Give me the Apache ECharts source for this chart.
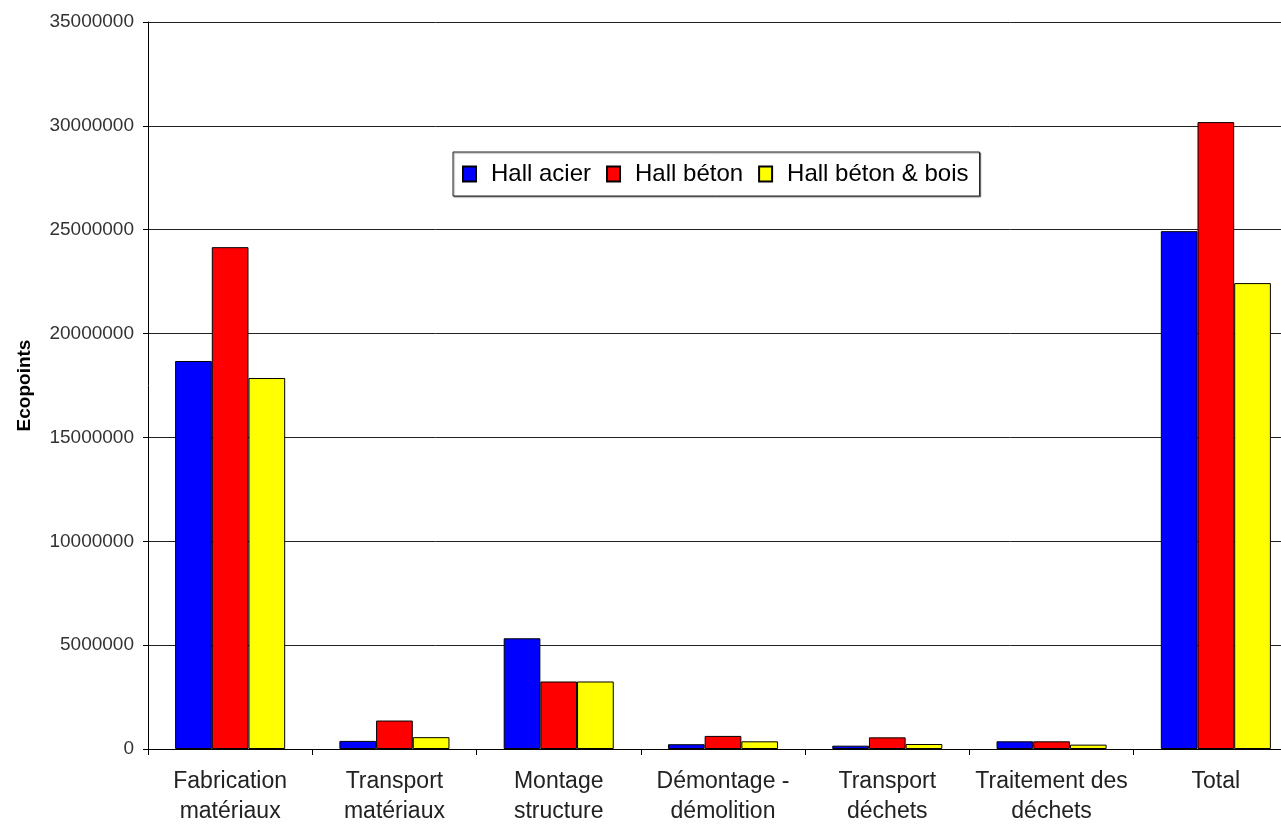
<!DOCTYPE html>
<html><head><meta charset="utf-8">
<script src="https://cdn.jsdelivr.net/npm/echarts@6/dist/echarts.min.js"></script>
<style>html,body{margin:0;padding:0;background:#fff;overflow:hidden}#c{width:1298px;height:824px}</style>
</head><body><div id="c"></div>
<script>
const categories = ['Fabrication\nmatériaux','Transport\nmatériaux','Montage\nstructure','Démontage -\ndémolition','Transport\ndéchets','Traitement des\ndéchets','Total'];
const hallAcier = [18680000, 390000, 5330000, 230000, 160000, 370000, 24930000];
const hallBeton = [24160000, 1370000, 3250000, 630000, 560000, 370000, 30180000];
const hallBetonBois = [17860000, 570000, 3250000, 370000, 240000, 210000, 22430000];
const seriesNames = ['Hall acier','Hall béton','Hall béton & bois'];
const colors = ['#0000FF','#FF0000','#FFFF00'];

const chart = echarts.init(document.getElementById('c'));
const mk = (name, data, color) => ({
  name, type:'bar', data, barGap:'0%', barCategoryGap:'33%',
  itemStyle:{color, borderColor:'#000', borderWidth:1}
});
chart.setOption({
  animation:false,
  textStyle:{fontFamily:'Liberation Sans, Arial, sans-serif'},
  legend:{
    left:453, top:152, itemWidth:13, itemHeight:15, itemGap:15, icon:'rect',
    padding:[10,11,10,9], borderColor:'#222', borderWidth:1, backgroundColor:'#fff',
    shadowColor:'rgba(0,0,0,0.4)', shadowOffsetX:1, shadowOffsetY:1, shadowBlur:1,
    textStyle:{fontSize:24, color:'#000', padding:[0,0,0,10]},
    data:seriesNames
  },
  grid:{left:148, top:22, right:0, bottom:75, containLabel:false, outerBoundsMode:'none'},
  xAxis:{
    type:'category', data:categories,
    axisLine:{lineStyle:{color:'#000', width:1}},
    axisTick:{show:true, length:6, alignWithLabel:false, lineStyle:{color:'#000'}},
    axisLabel:{fontSize:23, color:'#222', lineHeight:30, margin:18, interval:0}
  },
  yAxis:{
    type:'value', min:0, max:35000000, interval:5000000,
    name:'Ecopoints', nameLocation:'middle', nameGap:114, nameRotate:90,
    nameTextStyle:{fontSize:19, fontWeight:'bold', color:'#000'},
    axisLine:{show:true, lineStyle:{color:'#000'}},
    axisTick:{show:true, length:5, inside:false, lineStyle:{color:'#000'}},
    axisLabel:{fontSize:19, color:'#333', margin:14, formatter:v=>String(v)},
    splitLine:{lineStyle:{color:'#222', width:1}}
  },
  series:[mk(seriesNames[0], hallAcier, colors[0]), mk(seriesNames[1], hallBeton, colors[1]), mk(seriesNames[2], hallBetonBois, colors[2])]
});
</script></body></html>
